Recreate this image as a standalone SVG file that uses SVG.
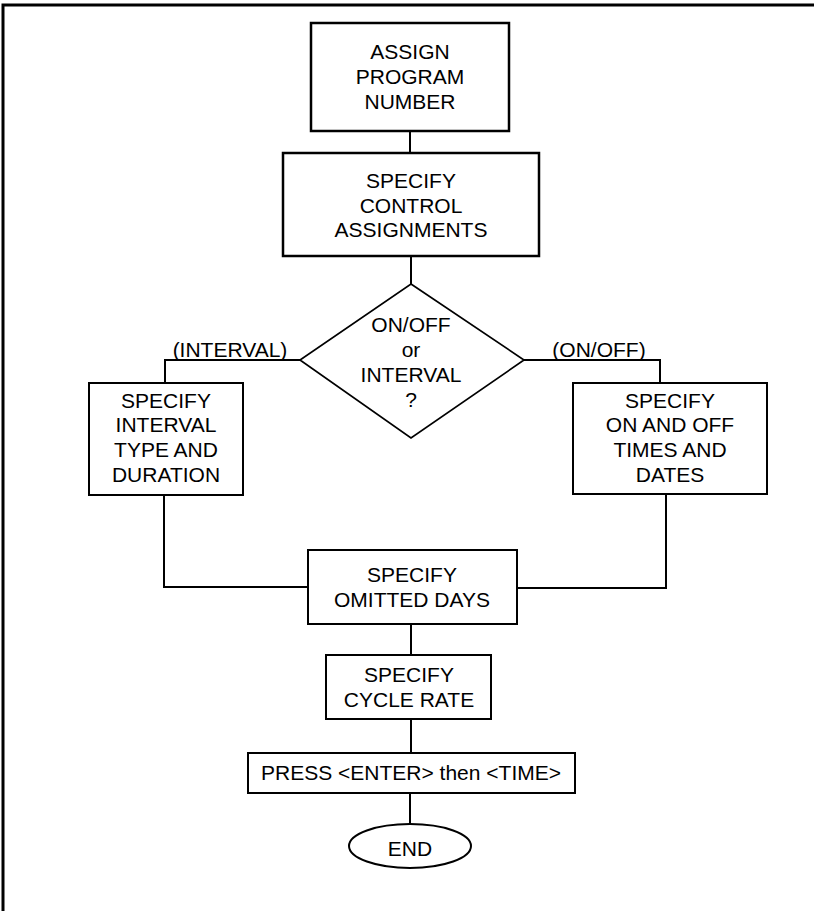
<svg xmlns="http://www.w3.org/2000/svg" width="814" height="911" viewBox="0 0 814 911">
<style>
.b{fill:#fff;stroke:#000;stroke-width:2}
.bt{fill:#fff;stroke:#000;stroke-width:2.5}
.c{fill:none;stroke:#000;stroke-width:2}
text{font-family:"Liberation Sans",Arial,sans-serif;font-size:21px;fill:#000;text-anchor:middle}
</style>
<rect x="0" y="0" width="814" height="911" fill="#fff"/>
<path d="M3,911 V5 H814" fill="none" stroke="#000" stroke-width="3"/>
<g id="connectors">
<path class="c" d="M410,131 V153"/>
<path class="c" d="M411,256 V284"/>
<path class="c" d="M300,360 H165 V383"/>
<path class="c" d="M524,360 H660 V383"/>
<path class="c" d="M164,495 V587 H308"/>
<path class="c" d="M666,494 V588 H517"/>
<path class="c" d="M411,624 V655"/>
<path class="c" d="M411,719 V753"/>
<path class="c" d="M410,793 V824"/>
<text x="230" y="357">(INTERVAL)</text>
<text x="599" y="357">(ON/OFF)</text>
</g>
<g id="assign">
<rect class="bt" x="311" y="23" width="198" height="108"/>
<text x="410" y="59">ASSIGN</text>
<text x="410" y="84">PROGRAM</text>
<text x="410" y="109">NUMBER</text>
</g>
<g id="control">
<rect class="bt" x="283" y="153" width="256" height="103"/>
<text x="411" y="188">SPECIFY</text>
<text x="411" y="213">CONTROL</text>
<text x="411" y="237">ASSIGNMENTS</text>
</g>
<g id="decision">
<polygon class="b" points="411,284 524,360 411,438 300,360" style="stroke-width:1.7"/>
<text x="411" y="332">ON/OFF</text>
<text x="411" y="357">or</text>
<text x="411" y="382">INTERVAL</text>
<text x="411" y="407">?</text>
</g>
<g id="interval">
<rect class="b" x="89" y="383" width="154" height="112"/>
<text x="166" y="408">SPECIFY</text>
<text x="166" y="432">INTERVAL</text>
<text x="166" y="457">TYPE AND</text>
<text x="166" y="482">DURATION</text>
</g>
<g id="onoff">
<rect class="b" x="573" y="383" width="194" height="111"/>
<text x="670" y="408">SPECIFY</text>
<text x="670" y="432">ON AND OFF</text>
<text x="670" y="457">TIMES AND</text>
<text x="670" y="482">DATES</text>
</g>
<g id="omitted">
<rect class="b" x="308" y="550" width="209" height="74"/>
<text x="412" y="582">SPECIFY</text>
<text x="412" y="607">OMITTED DAYS</text>
</g>
<g id="cycle">
<rect class="b" x="326" y="655" width="165" height="64"/>
<text x="409" y="682">SPECIFY</text>
<text x="409" y="707">CYCLE RATE</text>
</g>
<g id="press">
<rect class="b" x="248" y="753" width="327" height="40"/>
<text x="411" y="780">PRESS &lt;ENTER&gt; then &lt;TIME&gt;</text>
</g>
<g id="end">
<ellipse class="b" cx="410" cy="846" rx="61" ry="22"/>
<text x="410" y="856">END</text>
</g>
</svg>
